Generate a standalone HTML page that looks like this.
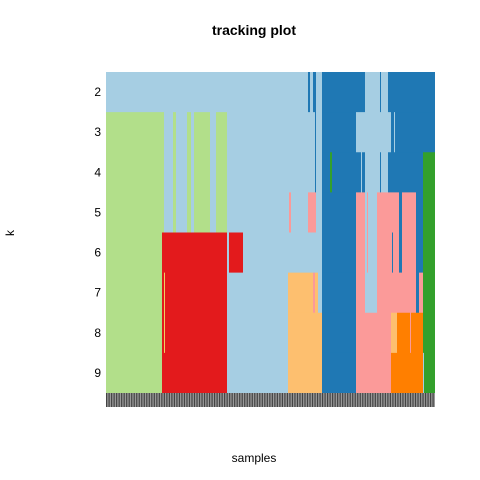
<!DOCTYPE html>
<html><head><meta charset="utf-8"><style>
body{margin:0;background:#fff;}
svg{display:block;font-family:"Liberation Sans",sans-serif;}
</style></head><body>
<svg id="c" width="480" height="480">
<text x="254" y="35" text-anchor="middle" font-size="14" font-weight="bold">tracking plot</text>
<text x="254" y="462" text-anchor="middle" font-size="12">samples</text>
<text x="14" y="233" text-anchor="middle" font-size="12" transform="rotate(-90 14 233)">k</text>
<g id="cells"></g><g id="rug"></g><g id="labels"></g>
</svg>
<script>
const kValues=[2,3,4,5,6,7,8,9];
const palette={lb:"#A6CEE3",b:"#1F78B4",lg:"#B2DF8A",g:"#33A02C",p:"#FB9A99",r:"#E31A1C",lo:"#FDBF6F",o:"#FF7F00",y:"#F0D060"};
// segments per k: [startSample,endSample,cluster]; samples 0..329
const row2=[[0,202,"lb"],[202,204,"b"],[204,207,"lb"],[207,210,"b"],[210,216,"lb"],[216,259,"b"],[259,274,"lb"],[274,275,"b"],[275,282,"lb"],[282,329,"b"]];
const row3=[[0,58,"lg"],[58,67,"lb"],[67,70,"lg"],[70,81,"lb"],[81,85,"lg"],[85,88,"lb"],[88,104,"lg"],[104,110,"lb"],[110,121,"lg"],[121,209,"lb"],[209,210,"b"],[210,216,"lb"],[216,250,"b"],[250,285,"lb"],[285,288,"b"],[288,289,"lb"],[289,329,"b"]];
const row4=[[0,58,"lg"],[58,67,"lb"],[67,70,"lg"],[70,81,"lb"],[81,85,"lg"],[85,88,"lb"],[88,104,"lg"],[104,110,"lb"],[110,121,"lg"],[121,209,"lb"],[209,210,"b"],[210,216,"lb"],[216,224,"b"],[224,226,"g"],[226,255,"b"],[255,256,"lb"],[256,259,"b"],[259,274,"lb"],[274,275,"b"],[275,282,"lb"],[282,317,"b"],[317,329,"g"]];
const row5=[[0,58,"lg"],[58,67,"lb"],[67,70,"lg"],[70,81,"lb"],[81,85,"lg"],[85,88,"lb"],[88,104,"lg"],[104,110,"lb"],[110,121,"lg"],[121,183,"lb"],[183,185,"p"],[185,202,"lb"],[202,210,"p"],[210,216,"lb"],[216,250,"b"],[250,259,"p"],[259,261,"lb"],[261,262,"p"],[262,271,"lb"],[271,293,"p"],[293,296,"b"],[296,310,"p"],[310,317,"b"],[317,329,"g"]];
const row6=[[0,56,"lg"],[56,121,"r"],[121,123,"lb"],[123,137,"r"],[137,216,"lb"],[216,250,"b"],[250,259,"p"],[259,261,"lb"],[261,262,"p"],[262,271,"lb"],[271,286,"p"],[286,287,"b"],[287,293,"p"],[293,296,"b"],[296,310,"p"],[310,317,"b"],[317,329,"g"]];
const row7=[[0,56,"lg"],[56,58,"r"],[58,59,"y"],[59,121,"r"],[121,182,"lb"],[182,207,"lo"],[207,209,"p"],[209,212,"lo"],[212,216,"lb"],[216,250,"b"],[250,259,"p"],[259,271,"lb"],[271,310,"p"],[310,313,"b"],[313,317,"p"],[317,329,"g"]];
const row8=[[0,56,"lg"],[56,58,"r"],[58,59,"y"],[59,121,"r"],[121,182,"lb"],[182,216,"lo"],[216,250,"b"],[250,285,"p"],[285,291,"lo"],[291,304,"o"],[304,305,"p"],[305,317,"o"],[317,329,"g"]];
const row9=[[0,56,"lg"],[56,121,"r"],[121,182,"lb"],[182,216,"lo"],[216,250,"b"],[250,285,"p"],[285,317,"o"],[317,318,"lb"],[318,329,"g"]];
const rows=[row2,row3,row4,row5,row6,row7,row8,row9];
const nSamples=329, x0=106, x1=435, yTop=72, yBot=393;
const ns="http://www.w3.org/2000/svg";
const xs=s=>x0+s*(x1-x0)/nSamples;
const rowH=(yBot-yTop)/kValues.length;
const ys=i=>yTop+i*rowH;
const cells=document.getElementById('cells');
rows.forEach((row,i)=>{row.forEach(seg=>{
  const r=document.createElementNS(ns,'rect');
  r.setAttribute('x',xs(seg[0]));r.setAttribute('width',xs(seg[1])-xs(seg[0]));
  r.setAttribute('y',ys(i));r.setAttribute('height',rowH+0.5);
  r.setAttribute('fill',palette[seg[2]]);
  
  
  cells.appendChild(r);});
  const t=document.createElementNS(ns,'text');
  t.setAttribute('x',101);t.setAttribute('y',ys(i)+rowH/2+4);
  t.setAttribute('text-anchor','end');t.setAttribute('font-size','12');
  t.textContent=kValues[i];
  
  
  document.getElementById('labels').appendChild(t);
});
const rug=document.getElementById('rug');
const bg=document.createElementNS(ns,'rect');
bg.setAttribute('x',x0);bg.setAttribute('y',yBot);bg.setAttribute('width',x1-x0);bg.setAttribute('height',14);bg.setAttribute('fill','#999');


rug.appendChild(bg);
for(let k=0;k<131;k++){
  const l=document.createElementNS(ns,'rect');
  l.setAttribute('x',x0+k*(x1-x0)/131);l.setAttribute('y',yBot);l.setAttribute('width',1.2);l.setAttribute('height',14);l.setAttribute('fill','#444');
  
  
  rug.appendChild(l);
}
</script>
</body></html>
